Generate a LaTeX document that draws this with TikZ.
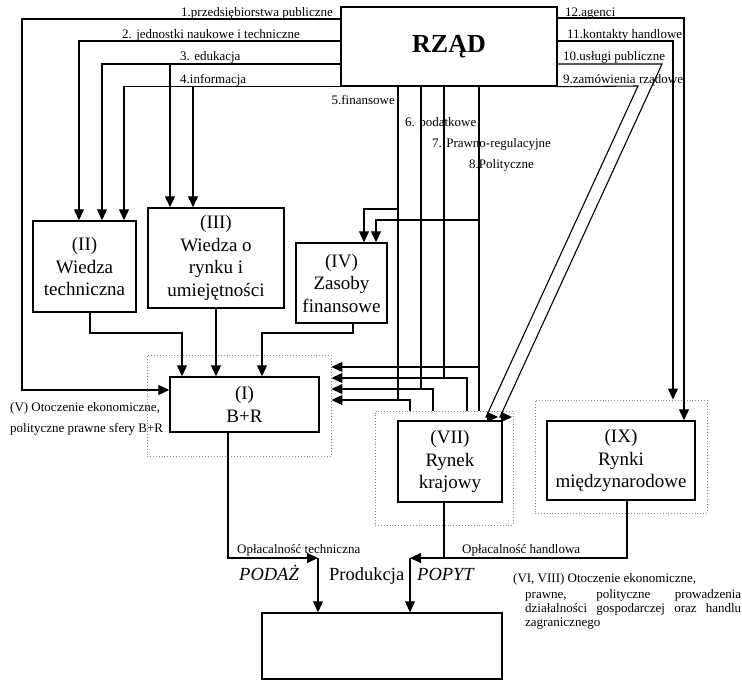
\documentclass[tikz,border=0pt]{standalone}
\usepackage{fontspec}
\setmainfont{Liberation Serif}
\usetikzlibrary{calc}
\usetikzlibrary{arrows.meta}

\tikzset{
  box/.style={draw, line width=1.4pt, align=center, inner sep=0pt,
    font=\fontsize{19}{22.5}\selectfont},
  envbox/.style={draw=black!45, dotted, line width=0.9pt, inner sep=0pt},
  lbl/.style={inner sep=0pt, font=\fontsize{13}{13.7}\selectfont},
  big/.style={inner sep=0pt, font=\fontsize{18.5}{22}\selectfont},
  link/.style={line width=1.1pt},
  arr/.style={link, -{Triangle[length=11pt,width=10pt]}},
}

\begin{document}
\begin{tikzpicture}[x=1pt,y=-1pt]
    \path[use as bounding box] (0,0) rectangle (742,681);
    % Environments.
    \node[envbox, minimum width=184pt, minimum height=101pt] (brenv) at (239,405.5) {};
    \node[envbox, minimum width=138pt, minimum height=114pt] (rkenv) at (444,468) {};
    \node[envbox, minimum width=172pt, minimum height=113pt] (rmenv) at (621,456.5) {};
    % Boxes.
    \node[box, minimum width=216pt, minimum height=79pt, font=\fontsize{26}{30}\selectfont\bfseries] (rzad) at (449,46.5) {RZĄD};
    \node[box, minimum width=103pt, minimum height=91pt] (wt) at (84.5,266.5) {(II)\\Wiedza\\techniczna};
    \node[box, minimum width=136pt, minimum height=100pt] (wr) at (216,258) {(III)\\Wiedza o\\rynku i\\umiejętności};
    \node[box, minimum width=91pt, minimum height=80pt] (zf) at (341.5,283) {(IV)\\Zasoby\\finansowe};
    \node[box, minimum width=149pt, minimum height=55pt] (br) at (244.5,404.5) {(I)\\B+R};
    \node[box, minimum width=104pt, minimum height=81pt] (rk) at (450,461.5) {(VII)\\Rynek\\krajowy};
    \node[box, minimum width=148pt, minimum height=79pt] (rm) at (621,460.5) {(IX)\\Rynki\\międzynarodowe};
    \node[box, minimum width=240pt, minimum height=66pt] (prod) at (382,646) {};
    % Channel labels.
    \node[lbl, anchor=base east] (l1) at (333,16) {1.przedsiębiorstwa publiczne};
    \node[lbl, anchor=base east] (l2) at (300,38) {2. jednostki naukowe i techniczne};
    \node[lbl, anchor=base west] (l3) at (180,60) {3. edukacja};
    \node[lbl, anchor=base west] (l4) at (180,83) {4.informacja};
    \node[lbl, anchor=base east] (l5) at (395,104) {5.finansowe};
    \node[lbl, anchor=base west] (l6) at (405,126) {6. podatkowe};
    \node[lbl, anchor=base west] (l7) at (432,147) {7. Prawno-regulacyjne};
    \node[lbl, anchor=base west] (l8) at (469,168) {8.Polityczne};
    \node[lbl, anchor=base west] (l9) at (563,83) {9.zamówienia rządowe};
    \node[lbl, anchor=base west] (l10) at (563,60) {10.usługi publiczne};
    \node[lbl, anchor=base west] (l11) at (567,38) {11.kontakty handlowe};
    \node[lbl, anchor=base west] (l12) at (565,16) {12.agenci};
    % Left channels.
    \draw[arr] (rzad.west |- 0,19) -| (22,390) -- (br.west |- 0,390);
    \draw[arr] (rzad.west |- 0,41) -| (79,0 |- wt.north);
    \draw[arr] (rzad.west |- 0,64) -| (102,0 |- wt.north);
    \draw[arr] (rzad.south west) -| (124,0 |- wt.north);
    \draw[arr] (170,64) -- (170,0 |- wr.north);
    \draw[arr] (193,0 |- rzad.south) -- (193,0 |- wr.north);
    % Right channels.
    \draw[arr] (rzad.east |- 0,18) -| (684,0 |- rm.north);
    \draw[arr] (rzad.east |- 0,41) -| (673,0 |- rmenv.north);
    \draw[arr] (rzad.east |- 0,64) -- (662,64) -- (500,417) -- (512,417);
    \draw[arr] (rzad.south east) -- (638,86) -- (486,417) -- (498,417);
    % Channels down.
    \draw[link] (rzad.south -| 398,0) -- (398,400);
    \draw[link] (rzad.south -| 421,0) -- (421,389);
    \draw[link] (rzad.south -| 444,0) -- (444,378);
    \draw[link] (rzad.south -| 479,0) -- (479,0 |- rkenv.north);
    \draw[arr] (398,209) -| (364,0 |- zf.north);
    \draw[arr] (479,220) -| (376,0 |- zf.north);
    \draw[arr] (479,367) -- (brenv.east |- 0,367);
    \foreach \x/\y in {467/378, 433/389, 410/400}
      \draw[arr] (rkenv.north -| \x,0) |- (brenv.east |- 0,\y);
    % Inputs of B+R.
    \draw[arr] (90,0 |- wt.south) |- (182,333) -- (182,0 |- br.north);
    \draw[arr] (wr.south) -- (wr.south |- br.north);
    \draw[arr] (353,0 |- zf.south) |- (262,333) -- (262,0 |- br.north);
    % Production.
    \coordinate (podaz) at (318,558);
    \coordinate (popyt) at (410,558);
    \draw[arr] (228,0 |- br.south) |- (podaz);
    \draw[arr] (podaz) -- (podaz |- prod.north);
    \draw[link] (444,0 |- rk.south) -- (444,558);
    \draw[arr] (627,0 |- rm.south) |- (popyt);
    \draw[arr] (popyt) -- (popyt |- prod.north);
    \node[lbl, anchor=base west] (opt) at (237,553) {Opłacalność techniczna};
    \node[lbl, anchor=base west] (oph) at (462,553) {Opłacalność handlowa};
    \node[big, anchor=base west] (pod) at (239,580) {\itshape PODAŻ};
    \node[big, anchor=base west] (pro) at (329,580) {Produkcja};
    \node[big, anchor=base west] (pop) at (417,580) {\itshape POPYT};
    % Environment notes.
    \node[lbl, anchor=base west] (env1) at (10,411) {(V) Otoczenie ekonomiczne,};
    \node[lbl, anchor=base west] (env1b) at (10,432) {polityczne prawne sfery B+R};
    \node[lbl, anchor=base west] (env2) at (513,582) {(VI, VIII) Otoczenie ekonomiczne,};
    \node[lbl, anchor=north west, text width=216pt, align=justify] (env2b) at (525,589.5)
      {prawne, polityczne prowadzenia\linebreak działalności gospodarczej oraz handlu\linebreak zagranicznego};
  \end{tikzpicture}
\end{document}
